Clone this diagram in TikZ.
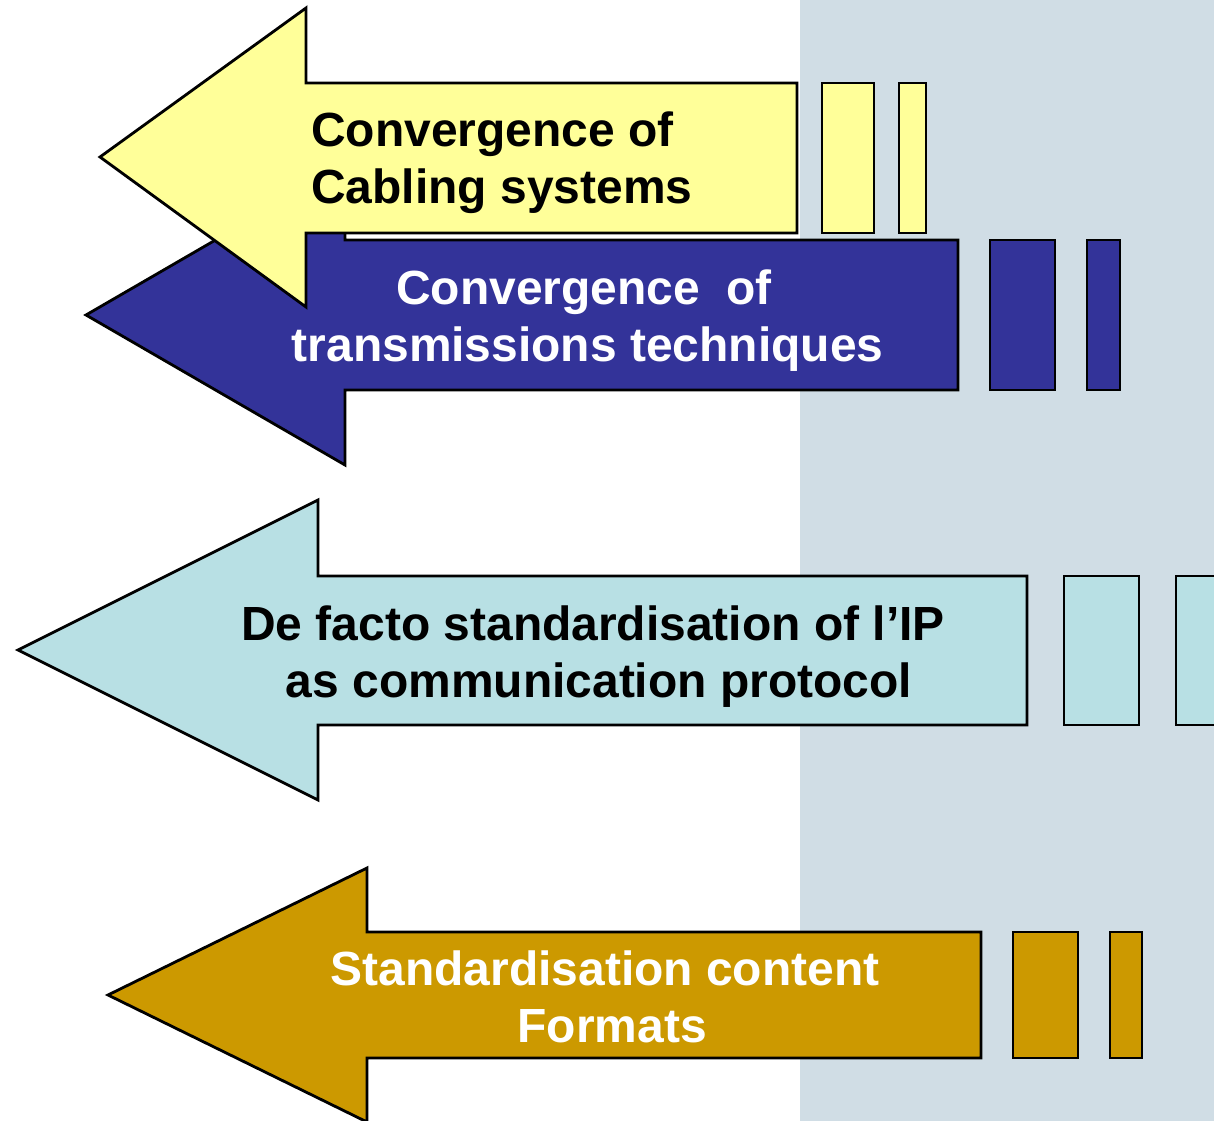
\documentclass[tikz,border=0pt]{standalone}
\usepackage{fontspec}
\setmainfont{Liberation Sans}
\definecolor{bgc}{HTML}{D0DDE5}
\definecolor{yel}{HTML}{FFFF99}
\definecolor{dblue}{HTML}{333399}
\definecolor{lblue}{HTML}{B8E0E4}
\definecolor{gold}{HTML}{CC9900}
\tikzset{
  arrshape/.style={draw=black, line width=1.6pt, line join=miter},
  lbl/.style={font=\fontsize{27.3}{32.4}\selectfont\bfseries, inner sep=0pt, align=center},
}
\begin{document}
\begin{tikzpicture}[x=0.02cm,y=-0.02cm]
\useasboundingbox (0,0) rectangle (1214,1121);
\clip (0,0) rectangle (1214,1121);
\fill[white] (0,0) rectangle (1214,1121);
\fill[bgc] (800,0) rectangle (1214,1121);
% dark blue arrow
\draw[arrshape, fill=dblue] (86,315) -- (345,165) -- (345,240) -- (958,240) -- (958,390) -- (345,390) -- (345,465) -- cycle;
\draw[arrshape, fill=dblue] (990,240) rectangle (1055,390);
\draw[arrshape, fill=dblue] (1087,240) rectangle (1120,390);
% yellow arrow
\draw[arrshape, fill=yel] (100,157) -- (306,8) -- (306,83) -- (797,83) -- (797,233) -- (306,233) -- (306,307) -- cycle;
\draw[arrshape, fill=yel] (822,83) rectangle (874,233);
\draw[arrshape, fill=yel] (899,83) rectangle (926,233);
% light blue arrow
\draw[arrshape, fill=lblue] (18,650) -- (318,500) -- (318,576) -- (1027,576) -- (1027,725) -- (318,725) -- (318,800) -- cycle;
\draw[arrshape, fill=lblue] (1064,576) rectangle (1139,725);
\draw[arrshape, fill=lblue] (1176,576) rectangle (1240,725);
% gold arrow
\draw[arrshape, fill=gold] (108,995) -- (367,868) -- (367,932) -- (981,932) -- (981,1058) -- (367,1058) -- (367,1122) -- cycle;
\draw[arrshape, fill=gold] (1013,932) rectangle (1078,1058);
\draw[arrshape, fill=gold] (1110,932) rectangle (1142,1058);
% labels
\node[lbl, align=left, anchor=west] (t1) at (311,163) {Convergence of\\Cabling systems};
\node[lbl, text=white] (t2) at (584,321) {Convergence\ \ of\hspace{0.5em}\\\hspace{0.15em}transmissions techniques};
\node[lbl] (t3) at (593,657) {De facto standardisation of l’IP\\\hspace{0.25em}as communication protocol};
\node[lbl, text=white] (t4) at (605,997) {Standardisation content\\\hspace{0.3em}Formats};
\end{tikzpicture}
\end{document}
